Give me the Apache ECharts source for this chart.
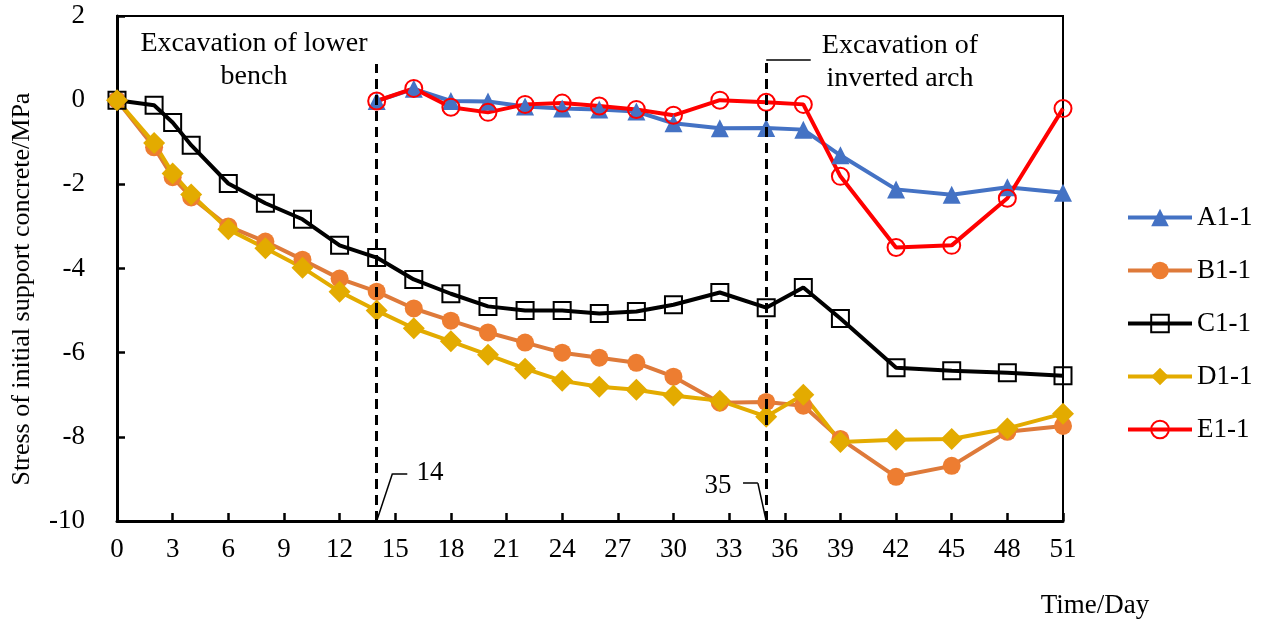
<!DOCTYPE html>
<html>
<head>
<meta charset="utf-8">
<script src="https://cdn.jsdelivr.net/npm/echarts@6/dist/echarts.min.js"></script>
<style>html,body{margin:0;padding:0;background:#fff;}#c{width:1263px;height:624px;}</style>
</head>
<body>
<div id="c"></div>
<script>
// ---- data ----
const daysFull = [0,2,3,4,6,8,10,12,14,16,18,20,22,24,26,28,30,32.5,35,37,39,42,45,48,51];
const daysLate = [14,16,18,20,22,24,26,28,30,32.5,35,37,39,42,45,48,51];
const A1 = [-0.02,0.27,-0.02,-0.03,-0.15,-0.2,-0.22,-0.27,-0.55,-0.67,-0.66,-0.7,-1.31,-2.12,-2.25,-2.07,-2.2];
const B1 = [0,-1.12,-1.83,-2.31,-3.0,-3.36,-3.79,-4.24,-4.55,-4.95,-5.24,-5.52,-5.76,-6.0,-6.12,-6.24,-6.57,-7.19,-7.17,-7.26,-8.05,-8.95,-8.69,-7.88,-7.74];
const C1 = [0,-0.12,-0.53,-1.07,-1.98,-2.45,-2.83,-3.45,-3.74,-4.26,-4.6,-4.9,-5.0,-5.0,-5.07,-5.02,-4.86,-4.57,-4.93,-4.45,-5.19,-6.36,-6.43,-6.48,-6.55];
const D1 = [0,-1.02,-1.74,-2.24,-3.07,-3.52,-3.98,-4.55,-5.0,-5.42,-5.73,-6.05,-6.38,-6.67,-6.81,-6.88,-7.02,-7.14,-7.52,-7.0,-8.12,-8.07,-8.05,-7.8,-7.45];
const E1 = [-0.02,0.28,-0.17,-0.29,-0.1,-0.07,-0.14,-0.22,-0.36,0.0,-0.05,-0.1,-1.81,-3.5,-3.45,-2.33,-0.2];
const seriesNames = ['A1-1','B1-1','C1-1','D1-1','E1-1'];
const xTicks = {min:0, max:51, interval:3};
const yTicks = {min:-10, max:2, interval:2};
const stageDays = [14, 35];

const FONT = 'Liberation Serif, Times New Roman, serif';
const pairs = (xs, ys) => xs.map((x, i) => [x, ys[i]]);

const chart = echarts.init(document.getElementById('c'), null, {renderer:'canvas'});

const axisCommon = {
  type:'value',
  axisLine:{show:true, onZero:false, lineStyle:{color:'#000', width:3}},
  axisTick:{show:true, inside:true, length:8, lineStyle:{color:'#000', width:2.5}},
  splitLine:{show:false},
  axisLabel:{color:'#000', fontFamily:FONT, fontSize:27}
};

const dashed = {color:'#000', width:3, type:[10,6]};
const solid = {color:'#000', width:1.5, type:'solid'};

chart.setOption({
  animation:false,
  backgroundColor:'#fff',
  grid:{left:117, top:16, width:946, height:505, show:true, borderColor:'#000', borderWidth:2, backgroundColor:'transparent'},
  xAxis:Object.assign({}, axisCommon, {min:xTicks.min, max:xTicks.max, interval:xTicks.interval,
    axisLabel:Object.assign({}, axisCommon.axisLabel, {margin:15})}),
  yAxis:Object.assign({}, axisCommon, {min:yTicks.min, max:yTicks.max, interval:yTicks.interval,
    axisLabel:Object.assign({}, axisCommon.axisLabel, {margin:32})}),
  legend:{
    orient:'vertical', left:1126, top:204, itemWidth:64, itemHeight:22, itemGap:31 - 5,
    padding:0, lineStyle:{width:4},
    textStyle:{fontFamily:FONT, fontSize:27, color:'#000', lineHeight:22},
    data:seriesNames
  },
  series:[
    {name:'A1-1', type:'line', data:pairs(daysLate, A1), symbol:'triangle', symbolSize:18,
      lineStyle:{color:'#4472C4', width:4}, itemStyle:{color:'#4472C4'}},
    {name:'B1-1', type:'line', data:pairs(daysFull, B1), symbol:'circle', symbolSize:18,
      lineStyle:{color:'#DE7A3A', width:4}, itemStyle:{color:'#ED7D31'}},
    {name:'C1-1', type:'line', data:pairs(daysFull, C1), symbol:'rect', symbolSize:17,
      lineStyle:{color:'#000', width:4}, itemStyle:{color:'rgba(255,255,255,0)', borderColor:'#000', borderWidth:2},
      markLine:{silent:true, symbol:['none','none'], label:{show:false},
        data:[
          [{coord:[stageDays[0],-10], lineStyle:dashed},{coord:[stageDays[0],0.86]}],
          [{coord:[stageDays[1],-10], lineStyle:dashed},{coord:[stageDays[1],0.94]}],
          [{coord:[stageDays[1],0.95], lineStyle:solid},{coord:[37.4,0.95]}],
          [{coord:[stageDays[0],-10], lineStyle:solid},{coord:[14.85,-8.87]}],
          [{coord:[14.85,-8.87], lineStyle:solid},{coord:[15.65,-8.87]}],
          [{coord:[stageDays[1],-10], lineStyle:solid},{coord:[34.55,-9.1]}],
          [{coord:[34.55,-9.1], lineStyle:solid},{coord:[33.75,-9.1]}]
        ]}},
    {name:'D1-1', type:'line', data:pairs(daysFull, D1), symbol:'diamond', symbolSize:22,
      lineStyle:{color:'#E3AB00', width:4}, itemStyle:{color:'#E3AB00'}},
    {name:'E1-1', type:'line', data:pairs(daysLate, E1), symbol:'circle', symbolSize:17,
      lineStyle:{color:'#FF0000', width:4}, itemStyle:{color:'rgba(255,255,255,0)', borderColor:'#FF0000', borderWidth:2}}
  ],
  graphic:[
    {type:'text', style:{text:'Stress of initial support concrete/MPa', fontFamily:FONT, fontSize:26, fill:'#000', align:'center', verticalAlign:'middle'},
      x:22, y:289, rotation:Math.PI/2},
    {type:'text', x:1095, y:606, style:{text:'Time/Day', fontFamily:FONT, fontSize:27, fill:'#000', align:'center', verticalAlign:'middle'}},
    {type:'text', x:254, y:60, style:{text:'Excavation of lower\nbench', fontFamily:FONT, fontSize:28, lineHeight:33, fill:'#000', align:'center', verticalAlign:'middle'}},
    {type:'text', x:900, y:62, style:{text:'Excavation of\ninverted arch', fontFamily:FONT, fontSize:28, lineHeight:33, fill:'#000', align:'center', verticalAlign:'middle'}},
    {type:'text', x:430, y:473, style:{text:'14', fontFamily:FONT, fontSize:27, fill:'#000', align:'center', verticalAlign:'middle'}},
    {type:'text', x:718, y:486, style:{text:'35', fontFamily:FONT, fontSize:27, fill:'#000', align:'center', verticalAlign:'middle'}}
  ]
});
</script>
</body>
</html>
